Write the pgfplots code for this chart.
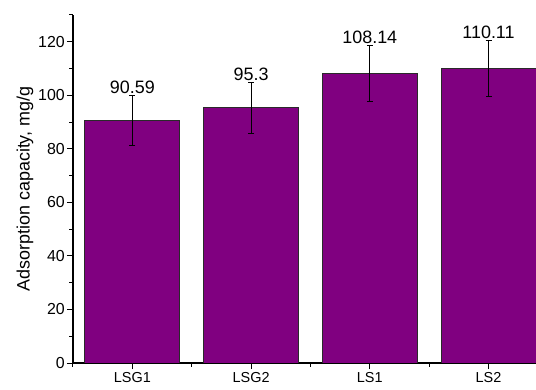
\documentclass[border=0pt]{standalone}
\usepackage{pgfplots}
\usepackage{pgfplotstable}
\pgfplotsset{compat=1.18}
\usepackage{fontspec}
\setmainfont{Liberation Sans}

\definecolor{barpurple}{HTML}{800080}
\definecolor{baredge}{HTML}{2A2A2A}

\pgfplotstableread{
x y err label
0 90.59 9.4 90.59
1 95.3 9.5 95.3
2 108.14 10.4 108.14
3 110.11 10.5 110.11
}\capacity

\begin{document}
\begin{tikzpicture}
\begin{axis}[
  at={(0,0)}, anchor=south west,
  scale only axis,
  width=463bp, height=348bp,
  xmin=-0.5, xmax=3.4,
  ymin=0, ymax=130,
  axis x line*=bottom, axis y line*=left,
  axis line style={line width=1.1bp, black},
  ybar, bar width=0.8,
  xtick={0,1,2,3},
  xticklabels={LSG1,LSG2,LS1,LS2},
  minor xtick={-0.5,0.5,1.5,2.5},
  ytick={0,20,...,120},
  minor ytick={10,30,...,130},
  tick align=outside,
  major tick length=6bp, minor tick length=3.5bp,
  tick style={line width=1bp, black},
  /pgf/number format/assume math mode=true,
  yticklabel style={font=\fontsize{16}{18}\selectfont, inner sep=2bp},
  xticklabel style={font=\fontsize{14.5}{16}\selectfont, inner sep=2bp, yshift=-1bp},
  ylabel={Adsorption capacity, mg/g},
  ylabel style={at={([xshift=-48bp]axis description cs:0,0.5)}, anchor=center, rotate=0,
                font=\fontsize{18}{20}\selectfont},
  clip=true,
]
\addplot[
  fill=barpurple, draw=baredge, line width=0.8bp,
  error bars/.cd, y dir=both, y explicit,
  error bar style={black, line width=0.9bp},
  error mark options={rotate=90, mark size=3bp, line width=0.9bp},
  /pgfplots/.cd,
  visualization depends on={\thisrow{err}\as\errv},
  nodes near coords,
  point meta=explicit symbolic,
  nodes near coords style={anchor=south, inner sep=1.5bp,
      font=\fontsize{18}{20}\selectfont,
      shift={(axis direction cs:0,\errv)}},
] table[x=x, y=y, y error=err, meta=label] {\capacity};
\end{axis}
\pgfresetboundingbox
\useasboundingbox (-73bp,-27bp) rectangle (463bp,363bp);
\end{tikzpicture}
\end{document}
